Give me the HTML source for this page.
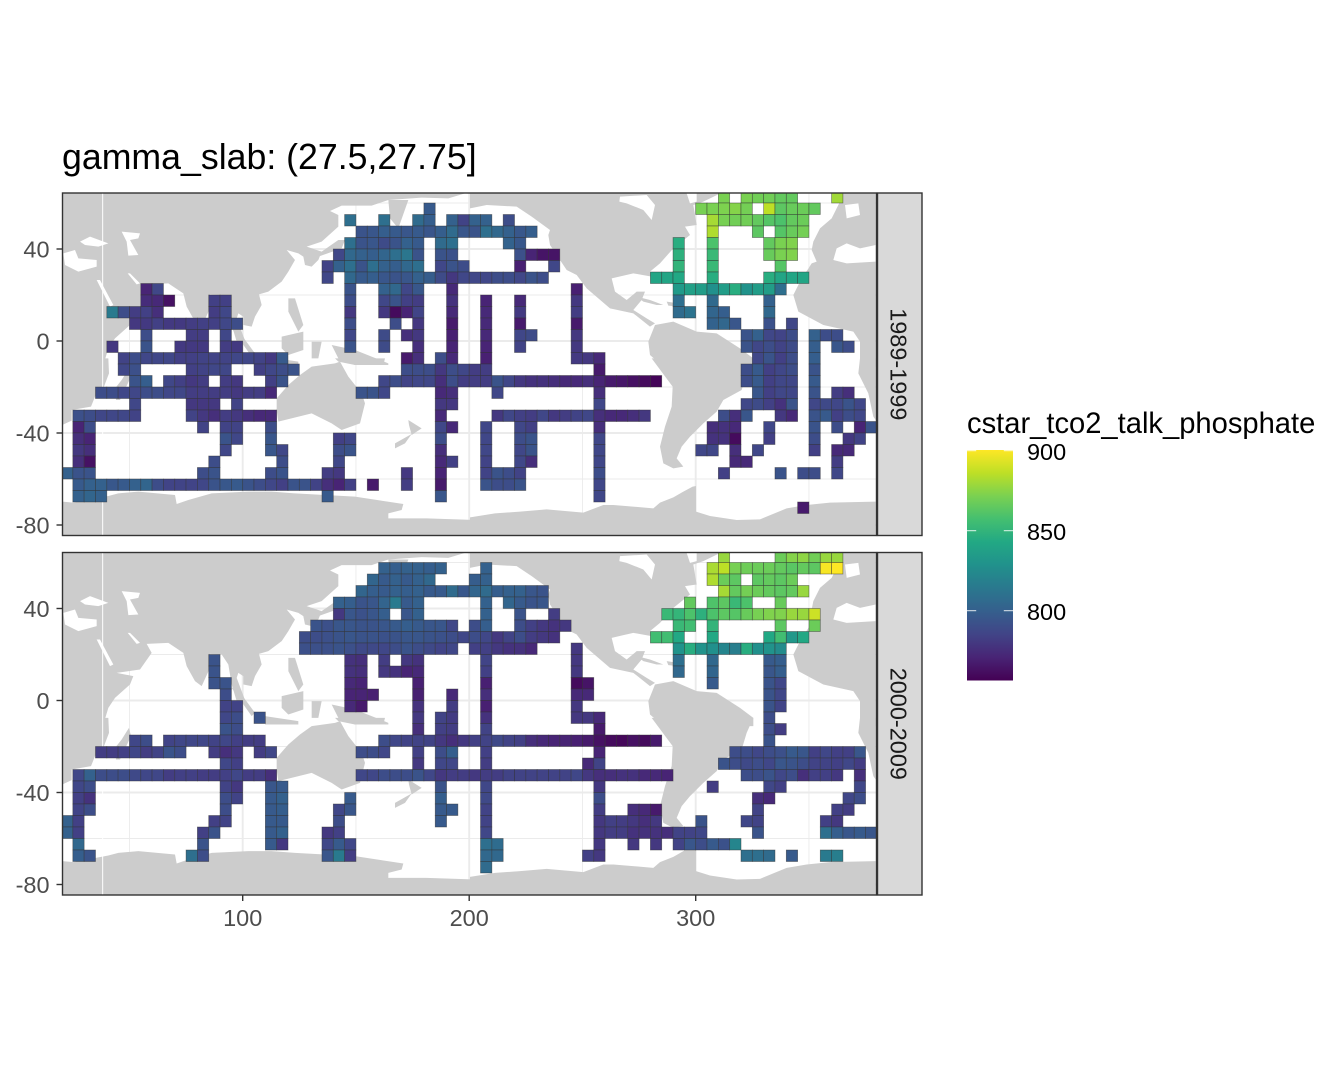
<!DOCTYPE html>
<html>
<head>
<meta charset="utf-8">
<title>gamma_slab map</title>
<style>
html,body{margin:0;padding:0;background:#fff;}
svg{display:block;font-family:"Liberation Sans",sans-serif;}
</style>
</head>
<body>
<svg id="chart" width="1344" height="1075" viewBox="0 0 1344 1075" xmlns="http://www.w3.org/2000/svg">
<defs>
<clipPath id="clip-top"><rect x="62.5" y="193" width="814" height="342.5"/></clipPath>
<clipPath id="clip-bottom"><rect x="62.5" y="552.5" width="814" height="342.5"/></clipPath>
<linearGradient id="viridis-gradient" x1="0" y1="1" x2="0" y2="0"></linearGradient>
<g id="land-map" fill="#cccccc" stroke="none">
<g transform="translate(55,185) scale(0.33333)">
<path d="M22,22 L1262,22 L1262,28 L1230,25 L1180,40 L1100,38 L1000,45 L950,62 L860,62 L825,78 L850,90 L850,125 L800,170 L755,185 L800,200 L790,225 L770,245 L750,240 L745,215 L730,205 L695,195 L720,225 L700,260 L680,290 L640,320 L612,328 L620,360 L600,395 L590,425 L565,420 L565,395 L550,385 L545,400 L575,480 L545,470 L530,420 L520,360 L500,330 L465,328 L465,370 L440,425 L420,410 L395,365 L385,325 L340,295 L275,298 L290,325 L255,375 L185,385 L235,395 L225,420 L180,460 L160,490 L145,540 L22,540 Z"/>
<path d="M1000,45 L1060,45 L1030,130 L1005,100 Z"/>
<path d="M530,430 L545,430 L600,505 L590,515 Z"/>
<path d="M680,455 L745,440 L745,495 L700,510 L680,490 Z"/>
<path d="M700,340 L720,340 L745,420 L730,440 L700,380 Z"/>
<path d="M770,470 L800,470 L790,520 L770,520 Z"/>
<path d="M830,480 L900,495 L1000,535 L1000,540 L900,540 L850,520 Z"/>
<path d="M630,515 L730,530 L730,540 L630,540 Z"/>
<path d="M850,165 L870,165 L860,190 L790,215 L770,215 L800,200 Z"/>
</g>
<g transform="translate(55,360) scale(0.33333)">
<path d="M22,-5 L160,-5 L162,40 L145,85 L120,110 L108,140 L50,150 L50,182 L22,195 Z"/>
<path d="M222,25 L228,50 L195,120 L183,120 L180,85 L200,60 Z"/>
<path d="M840,-5 L990,-5 L985,15 L900,15 L850,5 Z"/>
<path d="M665,115 L700,75 L735,45 L770,20 L840,10 L855,5 L880,50 L920,100 L930,130 L915,190 L860,210 L830,190 L770,160 L670,185 L665,150 Z"/>
<path d="M1060,180 L1100,205 L1070,225 L1062,195 Z"/>
<path d="M1070,222 L1050,250 L1020,265 L1020,250 Z"/>
<path d="M22,425 L55,428 L160,408 L190,400 L250,395 L360,405 L365,432 L400,420 L470,400 L580,395 L650,395 L720,400 L900,410 L1045,432 L1040,450 L1000,460 L1000,475 L1115,475 L1262,480 L1262,525 L22,525 Z"/>
</g>
<g transform="translate(470,185) scale(0.33333)">
<path d="M0,22 L780,22 L780,28 L745,28 L700,50 L670,60 L680,120 L645,125 L660,150 L610,190 L570,235 L540,260 L545,275 L490,265 L425,280 L435,320 L470,345 L500,320 L525,320 L515,345 L490,375 L530,400 L555,415 L540,425 L490,385 L420,370 L350,310 L320,270 L290,255 L240,180 L235,150 L240,135 L185,95 L140,65 L50,60 L0,70 Z"/>
<path d="M555,420 L610,410 L680,440 L740,445 L810,490 L850,520 L850,545 L580,545 L540,510 L535,470 Z"/>
<path d="M1120,22 L1217,22 L1217,545 L1170,545 L1170,470 L1150,440 L1060,420 L985,380 L970,330 L990,290 L1025,235 L1040,230 L1025,195 L1030,170 L1050,130 L1085,100 L1110,50 Z"/>
<path d="M500,335 L540,345 L580,360 L560,360 L520,350 Z"/>
<path d="M590,350 L625,355 L625,365 L595,362 Z"/>
</g>
<g transform="translate(470,360) scale(0.33333)">
<path d="M545,-5 L608,80 L605,140 L585,200 L570,260 L580,310 L610,325 L640,320 L620,295 L635,260 L660,230 L700,190 L740,155 L760,120 L815,90 L830,40 L850,-5 Z"/>
<path d="M1170,-5 L1217,-5 L1217,180 L1210,170 L1195,100 L1165,40 Z"/>
<path d="M0,472 L75,460 L150,455 L230,448 L340,458 L400,435 L430,435 L550,445 L570,428 L610,412 L640,395 L668,380 L678,378 L678,455 L720,468 L800,480 L870,478 L950,445 L1010,435 L1080,428 L1217,425 L1217,525 L0,525 Z"/>
</g>
<g fill="#ffffff">
<g transform="translate(55,185) scale(0.33333)">
<path d="M75,170 L105,155 L160,175 L130,185 L90,180 Z"/>
<path d="M200,140 L255,145 L250,160 L225,165 L250,210 L220,212 L215,170 Z"/>
<path d="M25,205 L60,195 L70,220 L125,225 L125,245 L70,260 L30,240 Z"/>
<path d="M125,285 L135,285 L175,360 L165,365 Z"/>
<path d="M218,265 L225,265 L255,295 L245,298 Z"/>
<rect x="141.5" y="22" width="3" height="1560"/>
</g>
<g transform="translate(470,185) scale(0.33333)">
<path d="M450,35 L530,30 L555,60 L545,105 L520,75 L470,55 L448,50 Z"/>
<path d="M650,25 L680,25 L680,50 L660,55 Z"/>
<path d="M1090,225 L1100,190 L1130,175 L1170,190 L1217,180 L1217,230 L1130,235 Z"/>
<path d="M1125,60 L1165,55 L1170,90 L1130,100 Z"/>
</g>
</g>
</g>
</defs>
<rect x="0" y="0" width="1344" height="1075" fill="#ffffff"/>
<text x="62" y="169" font-size="35.7" fill="#000000">gamma_slab: (27.5,27.75]</text>

<rect x="62.5" y="193" width="814" height="342.5" fill="#ffffff"/>
<rect x="62.5" y="552.5" width="814" height="342.5" fill="#ffffff"/>
<g id="grid-top" clip-path="url(#clip-top)"></g>
<g id="grid-bottom" clip-path="url(#clip-bottom)"></g>
<g clip-path="url(#clip-top)"><use href="#land-map"/></g>
<g clip-path="url(#clip-bottom)"><use href="#land-map" transform="translate(0,359.5)"/></g>
<g id="tiles-top" clip-path="url(#clip-top)"></g>
<g id="tiles-bottom" clip-path="url(#clip-bottom)"></g>
<rect x="62.5" y="193" width="814" height="342.5" fill="none" stroke="#333333" stroke-width="1.4"/>
<rect x="62.5" y="552.5" width="814" height="342.5" fill="none" stroke="#333333" stroke-width="1.4"/>

<rect x="877.5" y="193" width="44.5" height="342.5" fill="#d9d9d9" stroke="#333333" stroke-width="1.4"/>
<rect x="877.5" y="552.5" width="44.5" height="342.5" fill="#d9d9d9" stroke="#333333" stroke-width="1.4"/>
<text transform="translate(890.5,364.3) rotate(90)" text-anchor="middle" font-size="23.47" fill="#1a1a1a">1989-1999</text>
<text transform="translate(890.5,723.8) rotate(90)" text-anchor="middle" font-size="23.47" fill="#1a1a1a">2000-2009</text>

<g id="axes"></g>

<text x="967" y="433" font-size="29.15" fill="#000000">cstar_tco2_talk_phosphate</text>
<rect x="967" y="450" width="46" height="230.5" fill="url(#viridis-gradient)"/>
<g id="legend-ticks"></g>

<script>
const xTicks = [100, 200, 300];
const xMinor = [50, 150, 250, 350];
const yTicks = [40, 0, -40, -80];
const yMinor = [60, 20, -20, -60];
const legendTicks = [900, 850, 800];
const valueMin = 756.7;
const valueMax = 900.4;
const viridis = ["#440154","#482475","#414487","#355f8d","#2a788e","#21918c","#22a884","#44bf70","#7ad151","#bddf26","#fde725"];
/* read-off correction: my first estimates (left) against the colorbar position they match (right) */
const estimateKnots = [750, 757, 765, 775, 785, 800, 815, 830, 845, 860, 880, 893, 897, 901, 910];
const colorbarKnots = [750, 757, 767, 780, 787, 797, 809, 828, 843, 858, 873, 886, 893, 901, 910];

/* each row: latitude centre, then pairs of (west edge of 5-degree longitude bin, value) */
const rows1989 = [
[62.5, 310,878,320,878,325,875,330,875,335,870,340,870,360,887],
[57.5, 180,800,300,877,305,878,310,879,315,881,320,876,330,893,335,868,340,872,345,873,350,870],
[52.5, 145,815,160,815,175,812,180,803,190,805,195,782,200,805,205,805,215,790,305,888,310,877,315,875,320,875,325,870,330,865,335,862,340,870,345,873],
[47.5, 150,795,155,797,160,803,165,800,170,797,175,800,180,797,185,803,190,812,195,797,200,795,205,815,210,810,215,805,220,798,225,803,305,890,325,868,335,865,340,872,345,876],
[42.5, 145,815,150,795,155,797,160,788,165,795,170,805,175,800,185,812,190,815,215,806,220,798,290,848,305,862,330,870,335,878,340,880],
[37.5, 140,785,145,810,150,805,155,803,160,808,165,815,170,818,175,795,185,795,190,793,220,792,225,768,230,763,235,763,290,850,305,855,330,872,335,878,340,880],
[32.5, 135,782,140,805,145,815,150,795,155,815,160,805,165,803,170,810,175,815,185,785,190,795,195,790,220,767,235,785,290,852,305,855,335,865],
[27.5, 135,785,145,810,150,800,155,803,160,797,165,795,170,797,175,805,180,802,185,788,190,775,195,785,200,785,205,785,210,790,215,790,220,785,225,795,230,790,280,843,285,843,290,845,305,848,330,848,335,843,340,843,345,843],
[22.5, 55,768,60,785,145,795,160,805,165,810,170,785,175,798,190,770,245,767,290,836,295,840,300,838,305,830,310,838,315,848,320,832,325,838,330,838,335,815],
[17.5, 55,771,60,770,65,762,85,780,90,780,145,790,160,785,165,795,170,780,175,778,190,773,205,768,220,770,245,775,290,815,305,811,330,805],
[12.5, 40,820,45,790,50,778,55,780,60,772,85,778,90,785,145,775,160,775,165,760,170,768,175,783,190,770,205,770,220,776,245,778,290,812,295,817,305,808,310,803,330,810],
[7.5, 50,775,55,776,60,780,65,776,70,776,75,778,80,780,85,780,90,785,95,790,145,790,165,790,175,775,190,765,205,770,220,765,245,765,305,806,310,809,315,797,330,793,340,785],
[2.5, 55,790,75,778,80,778,90,785,145,785,160,788,170,772,175,775,190,767,205,770,220,785,225,788,245,775,320,795,325,805,330,785,335,783,340,790,350,805,355,790,360,790],
[-2.5, 40,775,55,795,70,776,75,776,80,776,90,778,95,776,145,795,160,788,175,772,190,768,205,768,220,782,245,775,320,795,325,785,330,790,335,782,340,788,350,803,360,797,365,790],
[-7.5, 45,782,50,790,55,785,60,785,65,785,70,780,75,780,80,782,85,782,90,782,95,785,100,785,105,782,110,776,115,800,170,765,175,772,185,790,190,770,205,767,245,776,250,775,255,770,325,785,330,795,335,780,340,790,350,803],
[-12.5, 45,785,50,792,75,780,80,782,85,785,90,785,105,780,110,785,115,790,120,795,170,790,175,790,180,790,185,775,190,790,195,785,200,778,205,778,255,765,320,790,325,800,330,780,335,785,340,790,350,795],
[-17.5, 50,795,55,803,65,785,70,780,75,775,80,778,90,778,95,775,110,780,115,795,160,785,165,790,170,782,175,785,180,785,185,772,190,790,195,778,200,778,205,778,210,795,215,785,220,775,225,773,230,773,235,772,240,770,245,770,250,772,255,768,260,765,265,764,270,762,275,760,280,758,320,790,325,800,330,780,335,785,340,785,350,800],
[-22.5, 35,790,40,790,45,785,50,785,55,790,60,790,65,785,70,785,75,778,80,778,85,778,90,778,95,775,100,778,105,778,110,770,150,795,155,795,160,785,185,770,190,772,210,785,255,772,325,797,330,780,335,785,340,785,350,795,360,778,365,772],
[-27.5, 50,785,75,775,80,775,85,775,95,782,185,775,190,775,255,785,320,785,325,788,330,780,335,773,340,795,350,785,355,787,360,785,365,795,370,785],
[-32.5, 25,792,30,790,35,785,40,785,45,785,50,782,75,782,80,775,85,772,90,778,95,775,100,772,105,770,110,770,185,770,210,775,215,785,220,780,225,778,230,785,235,775,240,778,245,782,250,785,255,772,260,770,265,770,270,772,275,775,310,790,315,772,320,797,335,775,340,770,350,795,355,800,360,780,365,790,370,785],
[-37.5, 25,768,30,790,80,782,90,782,95,782,110,790,185,785,190,770,205,785,220,785,225,780,255,772,305,772,310,773,315,770,330,785,350,795,360,790,370,768,375,795],
[-42.5, 25,772,30,768,90,795,95,785,110,797,140,780,145,785,185,790,205,785,220,790,225,795,255,785,305,773,310,773,315,760,330,780,350,790,365,775,370,782],
[-47.5, 25,775,30,772,90,785,110,797,115,785,140,790,145,795,185,772,205,785,220,785,225,795,255,785,300,785,305,785,315,772,325,785,350,780,360,770,365,770],
[-52.5, 25,772,30,762,85,790,115,790,140,785,185,770,190,780,205,782,220,785,225,772,255,785,315,770,320,770,360,778],
[-57.5, 20,805,25,795,30,795,80,790,85,795,110,790,115,795,135,778,140,775,170,775,185,768,205,782,210,795,215,790,220,782,255,790,310,780,335,795,345,790,350,790,360,785],
[-62.5, 25,800,30,805,35,805,40,798,45,800,50,805,55,808,60,790,65,783,70,783,75,783,80,785,85,795,90,798,95,800,100,795,105,790,110,785,115,780,120,795,125,795,130,782,135,772,140,768,145,780,155,765,170,778,185,765,205,795,210,790,215,790,220,795,255,785],
[-67.5, 25,805,30,808,35,805,135,800,185,797,255,785],
[-72.5, 345,765]
];

const rows2000 = [
[62.5, 310,885,335,873,340,881,345,883,350,875,355,885,360,885],
[57.5, 160,805,165,803,170,805,175,805,180,803,185,805,205,805,305,889,310,893,315,877,320,874,325,873,330,873,335,870,340,867,345,870,350,868,355,900,360,901],
[52.5, 155,808,160,800,165,805,170,800,175,805,180,810,200,802,205,805,305,890,310,873,315,868,325,868,330,870,335,868,340,873],
[47.5, 150,808,155,803,160,800,165,805,170,803,175,805,180,800,185,800,190,812,195,798,200,808,205,812,210,803,215,805,220,805,225,797,230,795,310,888,315,870,320,876,325,873,330,870,335,868,340,870,345,885],
[42.5, 140,805,145,803,150,795,155,797,160,807,165,820,170,800,175,805,205,805,215,808,220,800,225,795,230,797,295,870,305,863,310,868,315,855,320,862,335,872],
[37.5, 140,775,145,797,150,793,155,797,160,803,170,797,175,805,205,805,220,795,235,778,285,855,290,853,295,862,300,850,305,862,310,868,315,865,320,872,325,877,330,880,335,880,340,885,345,885,350,895],
[32.5, 130,795,135,792,140,797,145,797,150,795,155,795,160,797,165,800,170,803,175,800,180,797,185,797,190,785,200,790,205,803,220,790,225,780,230,775,235,773,240,775,290,855,295,858,305,852,335,868,350,873],
[27.5, 125,790,130,790,135,792,140,795,145,797,150,795,155,795,160,793,165,795,170,797,175,797,180,795,185,793,190,790,195,785,200,790,205,785,210,775,215,782,220,790,225,778,230,775,235,773,280,858,285,858,290,845,305,845,330,845,335,858,340,835,345,845],
[22.5, 125,792,130,792,135,792,140,795,145,792,150,787,155,787,160,785,165,790,170,795,175,790,180,787,185,783,190,785,200,780,205,780,210,775,215,773,220,773,225,770,245,775,290,832,295,848,300,832,305,830,310,825,315,822,320,848,325,830,330,832,335,828],
[17.5, 85,795,145,773,150,772,160,778,170,775,175,773,205,783,245,775,290,815,305,810,330,800,335,803],
[12.5, 85,795,145,773,150,772,160,775,165,773,170,768,175,770,205,780,245,775,290,810,305,808,330,797,335,803],
[7.5, 85,795,90,795,145,770,150,768,175,767,205,767,245,760,250,763,305,800,330,795,335,785],
[2.5, 90,790,145,768,150,768,155,767,175,767,190,770,205,772,245,770,250,770,330,795,335,785],
[-2.5, 90,782,95,782,145,770,150,765,175,773,190,778,205,767,245,775,330,795,335,783],
[-7.5, 90,785,95,790,105,795,175,775,185,782,190,777,205,773,245,775,250,775,255,770,330,790],
[-12.5, 90,795,95,790,175,772,185,780,190,778,205,782,255,765,330,790,335,778],
[-17.5, 50,785,55,790,65,783,70,785,75,785,80,785,85,782,90,785,95,780,100,778,105,778,160,790,165,785,170,782,175,782,180,782,185,775,190,772,195,775,200,780,205,782,210,787,215,782,220,780,225,772,230,770,235,768,240,768,245,767,250,765,255,762,260,760,265,759,270,762,275,760,280,765,330,795],
[-22.5, 35,778,40,778,45,780,50,785,55,778,60,782,65,795,70,790,85,778,90,772,95,775,105,778,110,785,150,790,155,790,160,785,175,780,185,790,190,803,205,780,255,768,315,790,320,790,325,785,330,790,335,792,340,800,345,797,350,780,355,785,360,780,365,780,370,797],
[-27.5, 90,785,95,780,175,775,185,785,190,785,205,778,250,770,255,782,310,795,315,790,320,787,325,790,330,785,335,797,340,795,345,790,350,782,355,782,360,780,365,785,370,778],
[-32.5, 25,785,30,805,35,790,40,790,45,790,50,787,55,785,60,785,65,778,70,780,75,780,80,778,85,778,90,780,95,785,100,778,105,778,110,772,150,785,155,785,160,790,165,790,170,790,175,795,180,785,185,775,190,778,195,778,200,775,205,778,210,778,215,782,220,782,225,782,230,782,235,782,240,782,245,785,250,775,255,772,260,772,265,773,270,773,275,770,280,770,285,768,320,790,325,790,330,795,335,785,340,790,345,772,350,780,355,780,360,775,370,772],
[-37.5, 25,785,30,790,90,782,95,775,110,797,115,800,185,795,205,785,255,775,305,778,330,785,335,780,370,785],
[-42.5, 25,780,30,773,90,790,95,782,110,800,115,805,145,800,185,803,205,787,255,790,325,772,330,770,365,785,370,790],
[-47.5, 25,783,30,790,90,790,110,800,115,803,140,785,145,797,185,800,190,800,205,782,255,778,270,772,275,770,280,765,325,782,360,780,365,778],
[-52.5, 20,805,25,780,85,780,90,782,110,800,115,800,140,790,185,800,205,782,255,775,260,780,265,778,270,775,275,772,280,775,300,795,320,785,325,782,355,780,360,775],
[-57.5, 20,805,25,780,80,780,85,795,110,800,115,805,135,775,140,780,205,785,255,775,260,778,265,778,270,773,275,773,280,773,285,772,290,782,295,782,300,785,325,795,355,815,360,803,365,797,370,800,375,797],
[-62.5, 25,810,80,795,110,800,115,775,135,785,140,800,145,785,205,815,210,813,255,775,270,775,280,775,290,782,295,797,300,790,305,800,310,793,315,825],
[-67.5, 25,803,30,795,75,815,80,790,135,797,140,820,145,778,205,810,210,810,250,780,255,775,320,815,325,815,330,812,340,800,355,820,360,822],
[-72.5, 205,812]
];

const SVG_NS = "http://www.w3.org/2000/svg";
const lonScale = 2.265;
const latScale = 2.3;
const binSize = 5;
function xPos(lon) { return 242.7 + (lon - 100) * lonScale; }
function yPos(lat, offset) { return 341 + offset - lat * latScale; }
function legendY(v) { return 450.7 + (900 - v) * 1.6; }
function hexToRgb(h) { return [parseInt(h.slice(1,3),16), parseInt(h.slice(3,5),16), parseInt(h.slice(5,7),16)]; }
function viridisColor(t) {
  const c = Math.max(0, Math.min(1, t)) * (viridis.length - 1);
  const i = Math.min(viridis.length - 2, Math.floor(c));
  const f = c - i;
  const a = hexToRgb(viridis[i]);
  const b = hexToRgb(viridis[i + 1]);
  return "rgb(" + a.map(function (v, k) { return Math.round(v + (b[k] - v) * f); }).join(",") + ")";
}
function correctedValue(v) {
  for (let i = 0; i < estimateKnots.length - 1; i++) {
    if (v <= estimateKnots[i + 1]) {
      const f = (v - estimateKnots[i]) / (estimateKnots[i + 1] - estimateKnots[i]);
      return colorbarKnots[i] + f * (colorbarKnots[i + 1] - colorbarKnots[i]);
    }
  }
  return v;
}
function valueColor(v) { return viridisColor((correctedValue(v) - valueMin) / (valueMax - valueMin)); }
function make(tag, attrs) {
  const el = document.createElementNS(SVG_NS, tag);
  for (const k in attrs) el.setAttribute(k, attrs[k]);
  return el;
}

const gradient = document.getElementById("viridis-gradient");
viridis.forEach(function (c, i) {
  gradient.appendChild(make("stop", { offset: (i / (viridis.length - 1)), "stop-color": c }));
});

function drawGrid(groupId, offset) {
  const g = document.getElementById(groupId);
  const top = 193 + offset;
  const bottom = 535.5 + offset;
  xMinor.forEach(function (v) {
    const l = make("line", { x1: xPos(v), x2: xPos(v), y1: top, y2: bottom, stroke: "#ebebeb", "stroke-width": 0.9 });
    
    
    g.appendChild(l);
  });
  yMinor.forEach(function (v) {
    const l = make("line", { x1: 62.5, x2: 876.5, y1: yPos(v, offset), y2: yPos(v, offset), stroke: "#ebebeb", "stroke-width": 0.9 });
    
    
    g.appendChild(l);
  });
  xTicks.forEach(function (v) {
    const l = make("line", { x1: xPos(v), x2: xPos(v), y1: top, y2: bottom, stroke: "#ebebeb", "stroke-width": 1.9 });
    
    
    g.appendChild(l);
  });
  yTicks.forEach(function (v) {
    const l = make("line", { x1: 62.5, x2: 876.5, y1: yPos(v, offset), y2: yPos(v, offset), stroke: "#ebebeb", "stroke-width": 1.9 });
    
    
    g.appendChild(l);
  });
}
drawGrid("grid-top", 0);
drawGrid("grid-bottom", 359.5);

function drawTiles(groupId, rows, offset) {
  const g = document.getElementById(groupId);
  rows.forEach(function (row) {
    const lat = row[0];
    for (let i = 1; i < row.length; i += 2) {
      const lon = row[i];
      const value = row[i + 1];
      const x0 = xPos(lon);
      const y0 = yPos(lat + binSize / 2, offset);
      const r = make("rect", {
        x: x0, y: y0,
        width: xPos(lon + binSize) - x0,
        height: binSize * latScale,
        fill: valueColor(value),
        stroke: "#333333",
        "stroke-opacity": 0.6,
        "stroke-width": 0.7
      });
      
      
      g.appendChild(r);
    }
  });
}
drawTiles("tiles-top", rows1989, 0);
drawTiles("tiles-bottom", rows2000, 359.5);

const axes = document.getElementById("axes");
[0, 359.5].forEach(function (offset) {
  yTicks.forEach(function (v) {
    const y = yPos(v, offset);
    const t = make("line", { x1: 56.5, x2: 62, y1: y, y2: y, stroke: "#333333", "stroke-width": 1.4 });
    
    
    axes.appendChild(t);
    const s = make("text", { x: 49.5, y: y + 8.4, "text-anchor": "end", "font-size": 23.47, fill: "#4d4d4d" });
    
    
    s.textContent = String(v);
    axes.appendChild(s);
  });
});
xTicks.forEach(function (v) {
  const x = xPos(v);
  const t = make("line", { x1: x, x2: x, y1: 895, y2: 901, stroke: "#333333", "stroke-width": 1.4 });
  
  
  axes.appendChild(t);
  const s = make("text", { x: x, y: 926, "text-anchor": "middle", "font-size": 23.47, fill: "#4d4d4d" });
  
  
  s.textContent = String(v);
  axes.appendChild(s);
});

const legendG = document.getElementById("legend-ticks");
legendTicks.forEach(function (v) {
  const y = legendY(v);
  const a = make("line", { x1: 967, x2: 976.2, y1: y, y2: y, stroke: "#ffffff", "stroke-width": 1, "stroke-opacity": 0.85 });
  
  
  legendG.appendChild(a);
  const b = make("line", { x1: 1003.8, x2: 1013, y1: y, y2: y, stroke: "#ffffff", "stroke-width": 1, "stroke-opacity": 0.85 });
  
  
  legendG.appendChild(b);
  const s = make("text", { x: 1027, y: y + 9.3, "font-size": 23.47, fill: "#000000" });
  
  
  s.textContent = String(v);
  legendG.appendChild(s);
});
</script>
</svg>
</body>
</html>
